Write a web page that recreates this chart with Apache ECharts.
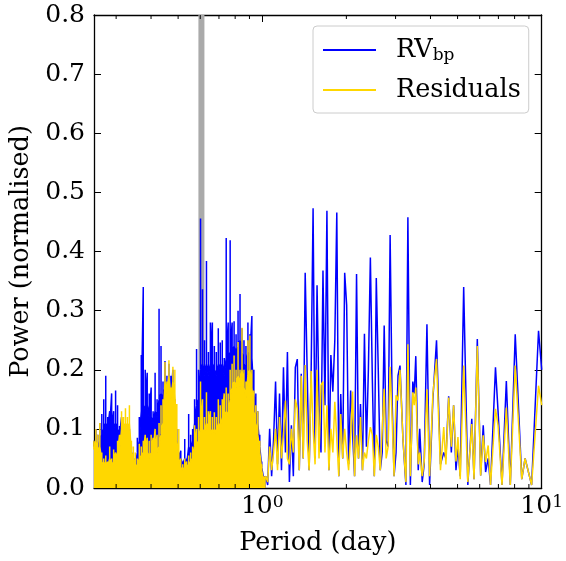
<!DOCTYPE html>
<html>
<head>
<meta charset="utf-8">
<script src="https://cdn.jsdelivr.net/npm/echarts@6/dist/echarts.min.js"></script>
<style>
  html, body { margin: 0; padding: 0; background: #fff; }
  #chart { width: 566px; height: 561px; }
</style>
</head>
<body>
<div id="chart"></div>
<script>
// Periodogram of the bisector-span RV and of the residuals.
// Below ~1 day the periodogram oscillates faster than the plot resolves:
// there each bin keeps its peak power and the level under which the trace
// fills the bin solidly (the *Floor arrays).
const period = [
  0.2498, 0.2539, 0.2580, 0.2623, 0.2666, 0.2709, 0.2754, 0.2799, 0.2845, 0.2891,
  0.2939, 0.2987, 0.3036, 0.3086, 0.3137, 0.3188, 0.3240, 0.3293, 0.3347, 0.3402,
  0.3458, 0.3515, 0.3573, 0.3631, 0.3691, 0.3752, 0.3813, 0.3876, 0.3939, 0.4004,
  0.4069, 0.4136, 0.4204, 0.4273, 0.4343, 0.4414, 0.4487, 0.4560, 0.4635, 0.4711,
  0.4789, 0.4867, 0.4947, 0.5028, 0.5111, 0.5194, 0.5280, 0.5366, 0.5454, 0.5544,
  0.5635, 0.5727, 0.5821, 0.5917, 0.6014, 0.6113, 0.6213, 0.6315, 0.6418, 0.6524,
  0.6630, 0.6739, 0.6850, 0.6962, 0.7076, 0.7193, 0.7311, 0.7431, 0.7553, 0.7677,
  0.7802, 0.7930, 0.8060, 0.8193, 0.8327, 0.8464, 0.8603, 0.8744, 0.8887, 0.9033,
  0.9181, 0.9332, 0.9485, 0.9641, 0.9799, 0.9959, 1.0122, 1.0288, 1.0458, 1.0629,
  1.0804, 1.0981, 1.1161, 1.1344, 1.1530, 1.1719, 1.1911, 1.2107, 1.2305, 1.2507,
  1.2713, 1.2921, 1.3133, 1.3349, 1.3568, 1.3790, 1.4016, 1.4246, 1.4480, 1.4717,
  1.4959, 1.5204, 1.5454, 1.5707, 1.5965, 1.6228, 1.6494, 1.6765, 1.7040, 1.7319,
  1.7603, 1.7892, 1.8185, 1.8484, 1.8787, 1.9094, 1.9407, 1.9726, 2.0049, 2.0378,
  2.0715, 2.1055, 2.1400, 2.1751, 2.2108, 2.2469, 2.2838, 2.3212, 2.3593, 2.3980,
  2.4374, 2.4774, 2.5180, 2.5593, 2.6013, 2.6440, 2.6874, 2.7315, 2.7763, 2.8218,
  2.8682, 2.9152, 2.9630, 3.0116, 3.0610, 3.1113, 3.1877, 3.2668, 3.3204, 3.3887,
  3.4579, 3.5007, 3.5437, 3.6165, 3.6609, 3.7362, 3.7975, 3.8850, 3.9713, 4.0794,
  4.2041, 4.3432, 4.4614, 4.5419, 4.6466, 4.7498, 4.8395, 4.9350, 5.0159, 5.1107,
  5.2584, 5.4411, 5.6211, 5.7273, 5.8832, 6.0483, 6.1775, 6.2994, 6.4341, 6.5609,
  6.8335, 6.9796, 7.2105, 7.4733, 7.7206, 8.0412, 8.4847, 8.7228, 9.2040, 9.7434,
  10.0
];

const powerRV = [
  0.080, 0.100, 0.090, 0.110, 0.125, 0.150, 0.190, 0.120, 0.130, 0.160,
  0.130, 0.165, 0.140, 0.105, 0.120, 0.100, 0.100, 0.100, 0.100, 0.070,
  0.060, 0.050, 0.085, 0.120, 0.225, 0.340, 0.200, 0.195, 0.160, 0.170,
  0.130, 0.195, 0.150, 0.303, 0.240, 0.180, 0.215, 0.190, 0.210, 0.190,
  0.200, 0.150, 0.100, 0.060, 0.063, 0.045, 0.083, 0.050, 0.125, 0.090,
  0.100, 0.150, 0.235, 0.200, 0.456, 0.336, 0.250, 0.384, 0.230, 0.280,
  0.280, 0.240, 0.230, 0.270, 0.246, 0.250, 0.220, 0.423, 0.280, 0.419,
  0.280, 0.282, 0.260, 0.300, 0.328, 0.270, 0.250, 0.240, 0.280, 0.260,
  0.291, 0.200, 0.160, 0.130, 0.090, 0.045, 0.020, 0.020, 0.005, 0.100,
  0.020, 0.083, 0.180, 0.040, 0.160, 0.030, 0.204, 0.060, 0.230, 0.010,
  0.106, 0.020, 0.204, 0.218, 0.030, 0.193, 0.050, 0.364, 0.198, 0.030,
  0.194, 0.473, 0.050, 0.343, 0.140, 0.060, 0.368, 0.140, 0.469, 0.030,
  0.225, 0.163, 0.250, 0.466, 0.020, 0.159, 0.050, 0.364, 0.309, 0.040,
  0.165, 0.163, 0.020, 0.362, 0.050, 0.142, 0.030, 0.261, 0.070, 0.200,
  0.390, 0.184, 0.020, 0.355, 0.200, 0.030, 0.060, 0.275, 0.080, 0.070,
  0.428, 0.150, 0.020, 0.060, 0.190, 0.207, 0.083, 0.005, 0.458, 0.005,
  0.180, 0.160, 0.223, 0.030, 0.100, 0.010, 0.040, 0.277, 0.005, 0.150,
  0.250, 0.040, 0.060, 0.050, 0.155, 0.060, 0.140, 0.030, 0.070, 0.020,
  0.340, 0.005, 0.117, 0.015, 0.252, 0.021, 0.106, 0.027, 0.050, 0.005,
  0.204, 0.130, 0.005, 0.181, 0.005, 0.260, 0.015, 0.050, 0.005, 0.266,
  0.200
];

const rvFloor = [
  0.070, 0.080, 0.060, 0.080, 0.090, 0.100, 0.110, 0.100, 0.100, 0.100,
  0.100, 0.110, 0.100, 0.090, 0.090, 0.090, 0.090, 0.090, 0.090, 0.060,
  0.050, 0.040, 0.060, 0.080, 0.130, 0.130, 0.140, 0.140, 0.120, 0.120,
  0.110, 0.130, 0.120, 0.150, 0.160, 0.150, 0.170, 0.160, 0.170, 0.150,
  0.150, 0.120, 0.080, 0.050, 0.050, 0.040, 0.050, 0.040, 0.070, 0.060,
  0.080, 0.110, 0.140, 0.150, 0.200, 0.210, 0.190, 0.210, 0.190, 0.210,
  0.210, 0.200, 0.190, 0.210, 0.200, 0.210, 0.190, 0.220, 0.220, 0.230,
  0.230, 0.240, 0.220, 0.240, 0.250, 0.230, 0.210, 0.200, 0.230, 0.220,
  0.220, 0.160, 0.130, 0.110, 0.070, 0.035, 0.015, 0.020
];

const powerResid = [
  0.080, 0.100, 0.090, 0.110, 0.060, 0.050, 0.055, 0.045, 0.070, 0.050,
  0.065, 0.060, 0.080, 0.090, 0.130, 0.120, 0.135, 0.120, 0.140, 0.080,
  0.070, 0.060, 0.050, 0.075, 0.070, 0.080, 0.090, 0.085, 0.080, 0.090,
  0.085, 0.100, 0.090, 0.110, 0.140, 0.150, 0.213, 0.180, 0.216, 0.170,
  0.205, 0.200, 0.142, 0.100, 0.050, 0.040, 0.050, 0.045, 0.055, 0.060,
  0.070, 0.106, 0.100, 0.120, 0.180, 0.150, 0.120, 0.162, 0.130, 0.130,
  0.120, 0.128, 0.120, 0.150, 0.140, 0.150, 0.160, 0.170, 0.160, 0.200,
  0.210, 0.224, 0.200, 0.247, 0.200, 0.271, 0.200, 0.180, 0.250, 0.258,
  0.200, 0.165, 0.140, 0.130, 0.080, 0.040, 0.020, 0.020, 0.010, 0.070,
  0.030, 0.060, 0.100, 0.030, 0.120, 0.050, 0.090, 0.148, 0.050, 0.040,
  0.100, 0.060, 0.150, 0.134, 0.030, 0.190, 0.050, 0.208, 0.080, 0.030,
  0.198, 0.100, 0.040, 0.200, 0.050, 0.174, 0.180, 0.060, 0.140, 0.030,
  0.100, 0.060, 0.146, 0.148, 0.020, 0.125, 0.050, 0.100, 0.060, 0.030,
  0.090, 0.163, 0.020, 0.089, 0.050, 0.120, 0.030, 0.060, 0.050, 0.080,
  0.103, 0.090, 0.020, 0.090, 0.070, 0.030, 0.100, 0.168, 0.050, 0.070,
  0.205, 0.120, 0.020, 0.157, 0.148, 0.200, 0.083, 0.010, 0.243, 0.020,
  0.162, 0.140, 0.170, 0.040, 0.060, 0.020, 0.044, 0.167, 0.020, 0.159,
  0.218, 0.030, 0.103, 0.040, 0.153, 0.070, 0.140, 0.045, 0.086, 0.015,
  0.207, 0.010, 0.108, 0.015, 0.240, 0.021, 0.089, 0.044, 0.072, 0.005,
  0.134, 0.106, 0.005, 0.136, 0.005, 0.207, 0.015, 0.050, 0.005, 0.173,
  0.140
];

const residFloor = [
  0.065, 0.080, 0.060, 0.070, 0.045, 0.035, 0.045, 0.035, 0.050, 0.035,
  0.045, 0.045, 0.060, 0.060, 0.100, 0.100, 0.110, 0.100, 0.110, 0.060,
  0.050, 0.040, 0.035, 0.050, 0.055, 0.060, 0.060, 0.060, 0.050, 0.060,
  0.060, 0.060, 0.060, 0.070, 0.090, 0.110, 0.180, 0.160, 0.190, 0.150,
  0.180, 0.160, 0.080, 0.050, 0.035, 0.030, 0.035, 0.035, 0.040, 0.045,
  0.050, 0.070, 0.070, 0.080, 0.100, 0.100, 0.090, 0.110, 0.100, 0.100,
  0.090, 0.100, 0.090, 0.110, 0.100, 0.120, 0.120, 0.130, 0.120, 0.150,
  0.170, 0.180, 0.170, 0.190, 0.170, 0.200, 0.170, 0.150, 0.190, 0.200,
  0.170, 0.130, 0.110, 0.090, 0.060, 0.030, 0.010, 0.020
];

// Shaded period interval (day)
const bandRange = [0.591, 0.621];

// Axis ranges and tick marks
const xRange = [0.25, 10];
const yRange = [0, 0.8];
const yStep = 0.1;
const minorTicks = [0.3, 0.4, 0.5, 0.6, 0.7, 0.8, 0.9, 2, 3, 4, 5, 6, 7, 8, 9];

const FONT = "'DejaVu Serif', serif";
const BLUE = '#0000ff';
const GOLD = '#ffd700';

// Binned part: rise from the floor to the peak and back inside each bin.
function binnedPoints(peak, floor) {
  const pts = [];
  for (let i = 0; i < floor.length; i++) {
    pts.push([period[i], floor[i]], [period[i], peak[i]], [period[i], floor[i]]);
  }
  return pts;
}
// Resolved part: one point per period, starting at the last bin.
function resolvedPoints(peak, from) {
  const pts = [];
  for (let i = from; i < period.length; i++) pts.push([period[i], peak[i]]);
  return pts;
}

const isDecade = v => Math.abs(Math.log10(v) - Math.round(Math.log10(v))) < 1e-6;

const xAxisBase = {
  type: 'log',
  logBase: 10,
  min: xRange[0],
  max: xRange[1],
  splitLine: { show: false },
  axisLine: { show: true, onZero: false, lineStyle: { color: '#000', width: 1.3 } },
  axisTick: { show: true, inside: true, length: 7, lineStyle: { color: '#000', width: 1 } },
  minorTick: { show: false }
};

const yAxisBase = {
  type: 'value',
  min: yRange[0],
  max: yRange[1],
  interval: yStep,
  splitLine: { show: false },
  axisLine: { show: true, lineStyle: { color: '#000', width: 1.3 } },
  axisTick: { show: true, inside: true, length: 7, lineStyle: { color: '#000', width: 1 } }
};

function traceSeries(name, data, color, z, filled) {
  return {
    name,
    type: 'line',
    xAxisIndex: 0,
    yAxisIndex: 0,
    data,
    symbol: 'none',
    showSymbol: false,
    sampling: null,
    z,
    lineStyle: { color, width: 1.5, join: 'bevel' },
    itemStyle: { color },
    areaStyle: filled ? { color, opacity: 1, origin: 'start' } : undefined
  };
}

const rvBinned = traceSeries('RVbp', binnedPoints(powerRV, rvFloor), BLUE, 2, true);
rvBinned.markArea = {
  silent: true,
  z: 1,
  itemStyle: { color: '#aaaaaa' },
  data: [[{ xAxis: bandRange[0] }, { xAxis: bandRange[1] }]]
};

const chart = echarts.init(document.getElementById('chart'), null, { renderer: 'canvas' });

chart.setOption({
  animation: false,
  backgroundColor: '#fff',
  textStyle: { fontFamily: FONT, color: '#000' },
  grid: { left: 90, right: 22.5, top: 15, bottom: 71, containLabel: false },
  xAxis: [
    Object.assign({}, xAxisBase, {
      position: 'bottom',
      name: 'Period (day)',
      nameLocation: 'middle',
      nameGap: 42,
      nameTextStyle: { fontFamily: FONT, fontSize: 25.5, color: '#000' },
      axisLabel: {
        show: true,
        margin: 6,
        formatter: v => isDecade(v) ? '{b|10}{s|' + Math.round(Math.log10(v)) + '}' : '',
        rich: {
          b: { fontFamily: FONT, fontSize: 25, color: '#000' },
          s: { fontFamily: FONT, fontSize: 17, color: '#000', verticalAlign: 'top' }
        }
      }
    }),
    Object.assign({}, xAxisBase, {
      position: 'top',
      axisLabel: { show: false }
    })
  ],
  yAxis: [
    Object.assign({}, yAxisBase, {
      position: 'left',
      name: 'Power (normalised)',
      nameLocation: 'middle',
      nameGap: 60,
      nameTextStyle: { fontFamily: FONT, fontSize: 25.5, color: '#000' },
      axisLabel: {
        margin: 9,
        fontFamily: FONT, fontSize: 25, color: '#000',
        formatter: v => '{n|' + v.toFixed(1) + '}',
        rich: { n: { fontFamily: FONT, fontSize: 25, color: '#000' } }
      }
    }),
    Object.assign({}, yAxisBase, {
      position: 'right',
      axisLabel: { show: false }
    })
  ],
  legend: {
    orient: 'vertical',
    left: 313,
    top: 26,
    padding: [10, 8, 9, 10],
    itemGap: 12,
    itemWidth: 53,
    itemHeight: 2,
    icon: 'rect',
    backgroundColor: 'rgba(255,255,255,0.8)',
    borderColor: '#cccccc',
    borderWidth: 1,
    borderRadius: 4,
    data: ['RVbp', 'Residuals'],
    formatter: name => name === 'RVbp' ? '{g|}{m|RV}{d|bp}' : '{g|}{m|Residuals}',
    textStyle: {
      fontFamily: FONT, fontSize: 25.5, color: '#000', lineHeight: 28,
      rich: {
        g: { width: 15 },
        m: { fontFamily: FONT, fontSize: 25.5, color: '#000' },
        d: { fontFamily: FONT, fontSize: 17, color: '#000', verticalAlign: 'bottom' }
      }
    }
  },
  series: [
    rvBinned,
    traceSeries('RVbp', resolvedPoints(powerRV, rvFloor.length - 1), BLUE, 2, false),
    traceSeries('Residuals', binnedPoints(powerResid, residFloor), GOLD, 3, true),
    traceSeries('Residuals', resolvedPoints(powerResid, residFloor.length - 1), GOLD, 3, false),
    {
      // minor log ticks on the bottom and top frame
      type: 'custom',
      xAxisIndex: 0,
      yAxisIndex: 0,
      silent: true,
      z: 5,
      data: minorTicks.map(t => [t, 0]),
      renderItem: (params, api) => {
        const x = api.coord([api.value(0), 0])[0];
        const cs = params.coordSys;
        const top = cs.y, bottom = cs.y + cs.height;
        return {
          type: 'group',
          children: [
            { type: 'line', shape: { x1: x, y1: bottom, x2: x, y2: bottom - 4 }, style: { stroke: '#000', lineWidth: 1 } },
            { type: 'line', shape: { x1: x, y1: top, x2: x, y2: top + 4 }, style: { stroke: '#000', lineWidth: 1 } }
          ]
        };
      }
    }
  ]
});
</script>
</body>
</html>
